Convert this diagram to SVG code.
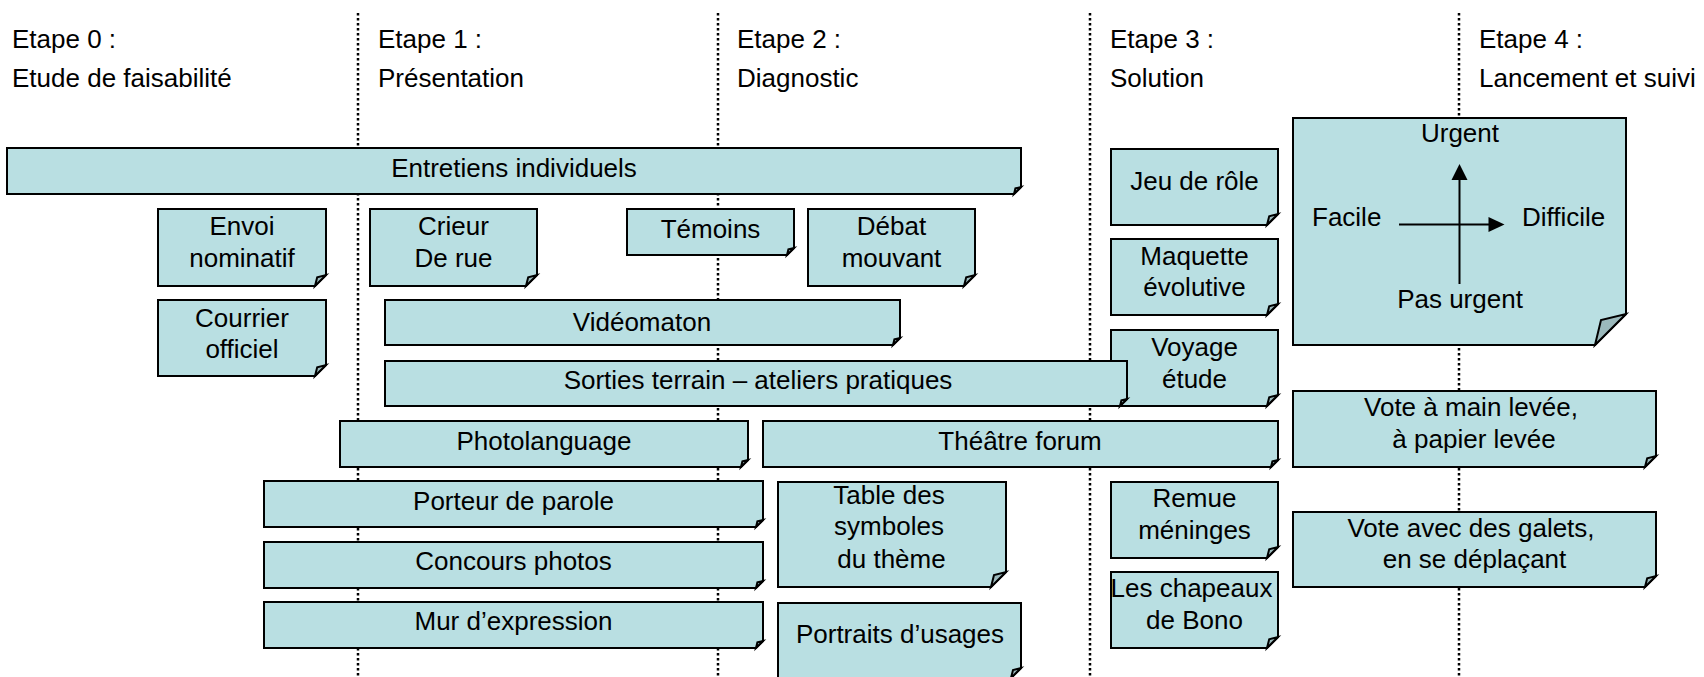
<svg xmlns="http://www.w3.org/2000/svg" width="1704" height="677" viewBox="0 0 1704 677">
<style>
text{font-family:"Liberation Sans",Arial,sans-serif;font-size:26px;fill:#000}
.c{text-anchor:middle}
.body{fill:#B9DFE2;stroke:#000;stroke-width:2;stroke-linejoin:miter}
.fold{fill:#9BB9BC;stroke:#000;stroke-width:2;stroke-linejoin:miter}
.div{stroke:#000;stroke-width:2.5;stroke-dasharray:2.5 2.5;fill:none}
.arr{stroke:#000;stroke-width:2;fill:none}
</style>
<rect width="1704" height="677" fill="#fff"/>
<g id="dividers">
<line class="div" x1="358" y1="13" x2="358" y2="677"/>
<line class="div" x1="718" y1="13" x2="718" y2="677"/>
<line class="div" x1="1090" y1="13" x2="1090" y2="677"/>
<line class="div" x1="1459" y1="13" x2="1459" y2="677"/>
</g>
<g id="headers">
<text x="12" y="48">Etape 0 :</text><text x="12" y="87">Etude de faisabilité</text>
<text x="378" y="48">Etape 1 :</text><text x="378" y="87">Présentation</text>
<text x="737" y="48">Etape 2 :</text><text x="737" y="87">Diagnostic</text>
<text x="1110" y="48">Etape 3 :</text><text x="1110" y="87">Solution</text>
<text x="1479" y="48">Etape 4 :</text><text x="1479" y="87">Lancement et suivi</text>
</g>
<g id="entretiens"><path class="body" d="M7,148 H1021 V187 L1014,194 H7 Z"/><path class="fold" d="M1014,194 L1015.4,188.4 L1021,187 Z"/><text class="c" x="514" y="177">Entretiens individuels</text></g>
<g id="envoi"><path class="body" d="M158,209 H326 V275 L315,286 H158 Z"/><path class="fold" d="M315,286 L317.2,277.2 L326,275 Z"/><text class="c" x="242" y="235">Envoi</text><text class="c" x="242" y="267">nominatif</text></g>
<g id="crieur"><path class="body" d="M370,209 H537 V275 L526,286 H370 Z"/><path class="fold" d="M526,286 L528.2,277.2 L537,275 Z"/><text class="c" x="453.5" y="235">Crieur</text><text class="c" x="453.5" y="267">De rue</text></g>
<g id="temoins"><path class="body" d="M627,209 H794 V248 L787,255 H627 Z"/><path class="fold" d="M787,255 L788.4,249.4 L794,248 Z"/><text class="c" x="710.5" y="238">Témoins</text></g>
<g id="debat"><path class="body" d="M808,209 H975 V275 L964,286 H808 Z"/><path class="fold" d="M964,286 L966.2,277.2 L975,275 Z"/><text class="c" x="891.5" y="235">Débat</text><text class="c" x="891.5" y="267">mouvant</text></g>
<g id="courrier"><path class="body" d="M158,300 H326 V365 L315,376 H158 Z"/><path class="fold" d="M315,376 L317.2,367.2 L326,365 Z"/><text class="c" x="242" y="327">Courrier</text><text class="c" x="242" y="358">officiel</text></g>
<g id="videomaton"><path class="body" d="M385,300 H900 V338 L893,345 H385 Z"/><path class="fold" d="M893,345 L894.4,339.4 L900,338 Z"/><text class="c" x="642" y="331">Vidéomaton</text></g>
<g id="voyage"><path class="body" d="M1111,330 H1278 V395 L1267,406 H1111 Z"/><path class="fold" d="M1267,406 L1269.2,397.2 L1278,395 Z"/><text class="c" x="1194.5" y="356">Voyage</text><text class="c" x="1194.5" y="388">étude</text></g>
<g id="sorties"><path class="body" d="M385,361 H1127 V399 L1120,406 H385 Z"/><path class="fold" d="M1120,406 L1121.4,400.4 L1127,399 Z"/><text class="c" x="758" y="389">Sorties terrain – ateliers pratiques</text></g>
<g id="photolanguage"><path class="body" d="M340,421 H748 V460 L741,467 H340 Z"/><path class="fold" d="M741,467 L742.4,461.4 L748,460 Z"/><text class="c" x="544" y="450">Photolanguage</text></g>
<g id="theatre"><path class="body" d="M763,421 H1278 V460 L1271,467 H763 Z"/><path class="fold" d="M1271,467 L1272.4,461.4 L1278,460 Z"/><text class="c" x="1020" y="450">Théâtre forum</text></g>
<g id="porteur"><path class="body" d="M264,481 H763 V520 L756,527 H264 Z"/><path class="fold" d="M756,527 L757.4,521.4 L763,520 Z"/><text class="c" x="513.5" y="510">Porteur de parole</text></g>
<g id="concours"><path class="body" d="M264,542 H763 V581 L756,588 H264 Z"/><path class="fold" d="M756,588 L757.4,582.4 L763,581 Z"/><text class="c" x="513.5" y="570">Concours photos</text></g>
<g id="mur"><path class="body" d="M264,602 H763 V641 L756,648 H264 Z"/><path class="fold" d="M756,648 L757.4,642.4 L763,641 Z"/><text class="c" x="513.5" y="630">Mur d’expression</text></g>
<g id="table"><path class="body" d="M778,482 H1006 V572 L991,587 H778 Z"/><path class="fold" d="M991,587 L994,575 L1006,572 Z"/><text class="c" x="889" y="504">Table des</text><text class="c" x="889" y="535">symboles</text><text class="c" x="891.5" y="568">du thème</text></g>
<g id="portraits"><path class="body" d="M778,603 H1021 V668 L1011,678 H778 Z"/><path class="fold" d="M1011,678 L1013,670 L1021,668 Z"/><text class="c" x="900" y="643">Portraits d’usages</text></g>
<g id="jeu"><path class="body" d="M1111,149 H1278 V214 L1267,225 H1111 Z"/><path class="fold" d="M1267,225 L1269.2,216.2 L1278,214 Z"/><text class="c" x="1194.5" y="190">Jeu de rôle</text></g>
<g id="maquette"><path class="body" d="M1111,239 H1278 V304 L1267,315 H1111 Z"/><path class="fold" d="M1267,315 L1269.2,306.2 L1278,304 Z"/><text class="c" x="1194.5" y="265">Maquette</text><text class="c" x="1194.5" y="296">évolutive</text></g>
<g id="remue"><path class="body" d="M1111,482 H1278 V547 L1267,558 H1111 Z"/><path class="fold" d="M1267,558 L1269.2,549.2 L1278,547 Z"/><text class="c" x="1194.5" y="507">Remue</text><text class="c" x="1194.5" y="539">méninges</text></g>
<g id="chapeaux"><path class="body" d="M1111,572 H1278 V637 L1267,648 H1111 Z"/><path class="fold" d="M1267,648 L1269.2,639.2 L1278,637 Z"/><text class="c" x="1191.5" y="597">Les chapeaux</text><text class="c" x="1194.5" y="629">de Bono</text></g>
<g id="matrice"><path class="body" d="M1293,118 H1626 V314 L1595,345 H1293 Z"/><path class="fold" d="M1595,345 L1601,320 L1626,314 Z"/><text class="c" x="1460" y="142">Urgent</text><text x="1312" y="226">Facile</text><text x="1522" y="226">Difficile</text><text class="c" x="1460" y="308">Pas urgent</text></g>
<g id="vote-main"><path class="body" d="M1293,391 H1656 V456 L1645,467 H1293 Z"/><path class="fold" d="M1645,467 L1647.2,458.2 L1656,456 Z"/><text class="c" x="1471" y="416">Vote à main levée,</text><text class="c" x="1474" y="448">à papier levée</text></g>
<g id="vote-galets"><path class="body" d="M1293,512 H1656 V576 L1645,587 H1293 Z"/><path class="fold" d="M1645,587 L1647.2,578.2 L1656,576 Z"/><text class="c" x="1471" y="537">Vote avec des galets,</text><text class="c" x="1474.5" y="568">en se déplaçant</text></g>
<g id="connectors">
<line class="arr" x1="1459.5" y1="284" x2="1459.5" y2="178"/>
<polygon points="1459.5,164 1451.5,180 1467.5,180" fill="#000"/>
<line class="arr" x1="1399" y1="224.5" x2="1490" y2="224.5"/>
<polygon points="1504.5,224.5 1488.5,217 1488.5,232" fill="#000"/>
</g>
</svg>
